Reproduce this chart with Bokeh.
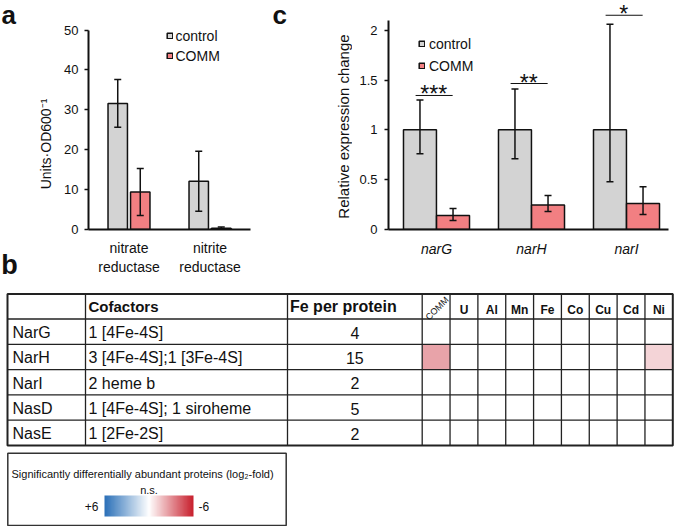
import numpy as np
from bokeh.plotting import figure
from bokeh.models import (ColumnDataSource, Whisker, TeeHead, Legend, LegendItem,
                          Range1d, FixedTicker, LinearColorMapper)
from bokeh.layouts import column, row
from bokeh.transform import transform
from bokeh.core.properties import value
from bokeh.embed import file_html
from bokeh.resources import INLINE

FONT = "Liberation Sans"
CTRL_COLOR = "#d3d3d3"
COMM_COLOR = "#f27f82"
INK = "#111111"

# ---------------- data ----------------
# panel a: enzyme activity (Units per OD600)
a_categories = ["nitrate\nreductase", "nitrite\nreductase"]
a_control = [31.6, 12.1]
a_control_err = [6.0, 7.5]
a_comm = [9.4, 0.3]
a_comm_err = [5.9, 0.3]

# panel c: relative expression change
c_genes = ["narG", "narH", "narI"]
c_control = [1.0, 1.0, 1.0]
c_control_upper = [1.30, 1.41, 2.06]
c_control_lower = [0.76, 0.71, 0.48]
c_comm = [0.14, 0.245, 0.26]
c_comm_upper = [0.21, 0.34, 0.43]
c_comm_lower = [0.09, 0.18, 0.15]
c_sig_labels = ["***", "**", "*"]
c_sig_level = [1.345, 1.465, 2.15]

# panel b: table
b_proteins = ["NarG", "NarH", "NarI", "NasD", "NasE"]
b_cofactors = ["1 [4Fe-4S]", "3 [4Fe-4S];1 [3Fe-4S]", "2 heme b",
               "1 [4Fe-4S]; 1 siroheme", "1 [2Fe-2S]"]
b_fe = [4, 15, 2, 5, 2]
b_conditions = ["COMM", "U", "Al", "Mn", "Fe", "Co", "Cu", "Cd", "Ni"]
# log2 fold change of significantly different proteins (0 = n.s.)
b_log2fc = [
    [0, 0, 0, 0, 0, 0, 0, 0, 0],
    [-2.45, 0, 0, 0, 0, 0, 0, 0, -1.15],
    [0, 0, 0, 0, 0, 0, 0, 0, 0],
    [0, 0, 0, 0, 0, 0, 0, 0, 0],
    [0, 0, 0, 0, 0, 0, 0, 0, 0],
]

# ---------------- layout ----------------
W, H = 674, 526
TOP_H = 288
BOT_H = H - TOP_H
FRAME_B = 229                            # bottom of the plotting frames in the top row
SA_W, PA_W, SC_W = 55, 210, 87          # x: 0-55, 55-265, 265-352
PC_W = W - SA_W - PA_W - SC_W           # 352-674


def style_axes(p):
    for axis in (p.xaxis[0], p.yaxis[0]):
        axis.axis_line_width = 2
        axis.axis_line_color = INK
        axis.major_tick_line_width = 1.5
        axis.major_tick_line_color = INK
        axis.minor_tick_line_color = None
        axis.major_label_text_font = FONT
        axis.major_label_text_color = INK
    p.xaxis.major_tick_out = 0
    p.xaxis.major_tick_in = 0
    p.yaxis.major_tick_out = 4
    p.yaxis.major_tick_in = 0
    p.grid.visible = False
    p.outline_line_color = None


def head():
    return TeeHead(size=7, line_width=1.5, line_color=INK)


def strip(x0, x1, y0, y1, bottom=0, xaxis=None):
    s = figure(width=x1 - x0, height=y1 - y0 + bottom, x_range=Range1d(x0, x1),
               y_range=Range1d(-y1, -y0), output_backend="svg", toolbar_location=None,
               title=None, min_border_left=0, min_border_right=0, min_border_top=0,
               min_border_bottom=bottom, x_axis_location=xaxis, y_axis_location=None)
    s.grid.visible = False
    s.outline_line_color = None
    return s


def put(p, x, y, text, size, bold=False, angle=0.0, align="left", baseline="middle"):
    p.text(x=[x], y=[-y], text=[text], angle=angle, text_align=align, text_baseline=baseline,
           text_font=value(FONT), text_font_size=value(size),
           text_font_style="bold" if bold else "normal", text_color=INK)

# ---------------- panel a ----------------
def ax_(x): return 1 + (x - 128.5) / 81.0
def ay_(y): return (FRAME_B - y) * 50 / 199.5

pa = figure(width=PA_W, height=TOP_H, x_range=Range1d(ax_(88), ax_(250)),
            y_range=Range1d(0, ay_(0)), output_backend="svg", toolbar_location=None,
            title=None, min_border_left=88 - SA_W, min_border_right=SA_W + PA_W - 250,
            min_border_top=0, min_border_bottom=TOP_H - FRAME_B)
style_axes(pa)
xa = np.arange(1, len(a_categories) + 1)
src_a = ColumnDataSource(dict(
    xc=xa - 0.139, xm=xa + 0.139, ctrl=a_control, comm=a_comm,
    cu=[v + e for v, e in zip(a_control, a_control_err)],
    cl=[v - e for v, e in zip(a_control, a_control_err)],
    mu=[v + e for v, e in zip(a_comm, a_comm_err)],
    ml=[max(v - e, 0) for v, e in zip(a_comm, a_comm_err)]))
ra1 = pa.vbar(x="xc", top="ctrl", width=0.24, source=src_a, fill_color=CTRL_COLOR,
              line_color=INK, line_width=1.5)
ra2 = pa.vbar(x="xm", top="comm", width=0.24, source=src_a, fill_color=COMM_COLOR,
              line_color=INK, line_width=1.5)
for b, u, l in (("xc", "cu", "cl"), ("xm", "mu", "ml")):
    pa.add_layout(Whisker(source=src_a, base=b, upper=u, lower=l, line_width=1.5,
                          line_color=INK, upper_head=head(), lower_head=head(),
                          level="annotation"))
pa.xaxis.ticker = FixedTicker(ticks=list(xa))
pa.xaxis.major_label_overrides = {int(i): c for i, c in zip(xa, a_categories)}
pa.xaxis.major_label_text_font_size = "14px"
pa.xaxis.major_label_standoff = 10
pa.yaxis.ticker = FixedTicker(ticks=[0, 10, 20, 30, 40, 50])
pa.yaxis.bounds = (0, 50)
pa.yaxis.major_label_text_font_size = "13px"
pa.yaxis.major_label_standoff = 6
leg_a = Legend(items=[LegendItem(label=value("control"), renderers=[ra1]),
                      LegendItem(label=value("COMM"), renderers=[ra2])],
               location=(165.5 - 88, FRAME_B - (37 - 7.5 + 34)),
               glyph_width=7, glyph_height=7, label_height=15, spacing=4,
               label_standoff=3, padding=0, margin=0, border_line_color=None,
               background_fill_alpha=0, label_text_font=FONT,
               label_text_font_size="14px", label_text_color=INK)
pa.add_layout(leg_a)

sa = strip(0, SA_W, 0, FRAME_B, bottom=TOP_H - FRAME_B, xaxis="below")
put(sa, 1, 14, "a", "26px", bold=True)
put(sa, 45, 143.5, "Units·OD600⁻¹", "14px", angle=np.pi / 2, align="center")
# panel letter "b" sits below the strip's frame: shown as its (only) x tick label
sa.xaxis.ticker = FixedTicker(ticks=[9])
sa.xaxis.major_label_overrides = {9: "b"}
sa.xaxis.axis_line_color = None
sa.xaxis.major_tick_line_color = None
sa.xaxis.minor_tick_line_color = None
sa.xaxis.major_tick_out = 0
sa.xaxis.major_tick_in = 0
sa.xaxis.major_label_standoff = 20
sa.xaxis.major_label_text_font = FONT
sa.xaxis.major_label_text_font_size = "27px"
sa.xaxis.major_label_text_font_style = "bold"
sa.xaxis.major_label_text_color = INK

# ---------------- panel c ----------------
def cx_(x): return 1 + (x - 436) / 95.0
def cy_(y): return (FRAME_B - y) * 2 / 199.3

PC_X0 = SA_W + PA_W + SC_W
pc = figure(width=PC_W, height=TOP_H, x_range=Range1d(cx_(388), cx_(668)),
            y_range=Range1d(0, cy_(0)), output_backend="svg", toolbar_location=None,
            title=None, min_border_left=388 - PC_X0, min_border_right=W - 668,
            min_border_top=0, min_border_bottom=TOP_H - FRAME_B)
style_axes(pc)
xc = np.arange(1, len(c_genes) + 1)
src_c = ColumnDataSource(dict(xc=xc - 0.174, xm=xc + 0.174, ctrl=c_control, comm=c_comm,
                              cu=c_control_upper, cl=c_control_lower,
                              mu=c_comm_upper, ml=c_comm_lower))
rc1 = pc.vbar(x="xc", top="ctrl", width=0.347, source=src_c, fill_color=CTRL_COLOR,
              line_color=INK, line_width=1.5)
rc2 = pc.vbar(x="xm", top="comm", width=0.347, source=src_c, fill_color=COMM_COLOR,
              line_color=INK, line_width=1.5)
for b, u, l in (("xc", "cu", "cl"), ("xm", "mu", "ml")):
    pc.add_layout(Whisker(source=src_c, base=b, upper=u, lower=l, line_width=1.5,
                          line_color=INK, upper_head=head(), lower_head=head(),
                          level="annotation"))
src_sig = ColumnDataSource(dict(x0=xc - 0.22, x1=xc + 0.17, xs=xc - 0.03,
                                y=c_sig_level, label=c_sig_labels))
pc.segment(x0="x0", y0="y", x1="x1", y1="y", source=src_sig, line_color=INK, line_width=1)
pc.text(x="xs", y="y", text="label", source=src_sig, text_align="center",
        text_baseline="middle", y_offset=-1, text_font=value(FONT),
        text_font_size=value("23px"), text_color=INK)
pc.xaxis.ticker = FixedTicker(ticks=list(xc))
pc.xaxis.major_label_overrides = {int(i): g for i, g in zip(xc, c_genes)}
pc.xaxis.major_label_text_font_size = "14px"
pc.xaxis.major_label_text_font_style = "italic"
pc.xaxis.major_label_standoff = 11
pc.yaxis.ticker = FixedTicker(ticks=[0, 0.5, 1, 1.5, 2])
pc.yaxis.major_label_overrides = {0: "0", 0.5: "0.5", 1: "1", 1.5: "1.5", 2: "2"}
pc.yaxis.bounds = (0, 2.1)
pc.yaxis.major_label_text_font_size = "13px"
pc.yaxis.major_label_standoff = 7
leg_c = Legend(items=[LegendItem(label=value("control"), renderers=[rc1]),
                      LegendItem(label=value("COMM"), renderers=[rc2])],
               location=(418 - 388, FRAME_B - (45 - 7.5 + 36)),
               glyph_width=7, glyph_height=7, label_height=15, spacing=6,
               label_standoff=4, padding=0, margin=0, border_line_color=None,
               background_fill_alpha=0, label_text_font=FONT,
               label_text_font_size="14px", label_text_color=INK)
pc.add_layout(leg_c)

sc = strip(SA_W + PA_W, PC_X0, 0, FRAME_B, bottom=TOP_H - FRAME_B)
put(sc, 272, 14, "c", "26px", bold=True)
put(sc, 343, 126, "Relative expression change", "15px", angle=np.pi / 2, align="center")

# ---------------- panel b (table) ----------------
pb = strip(0, W, TOP_H, H)

RED = (200, 32, 45)
BLUE = (43, 112, 184)
def _mix(c, f):
    return tuple(int(round(255 + (ci - 255) * f)) for ci in c)
PALETTE = []
for i in range(256):
    v = -6 + 12 * i / 255
    PALETTE.append("#%02x%02x%02x" % (_mix(RED, -v / 6) if v < 0 else _mix(BLUE, v / 6)))
mapper = LinearColorMapper(palette=PALETTE, low=-6, high=6)

ELW = (672.3 - 421.7) / len(b_conditions)
col_edges = [7, 85, 287, 421.7] + [421.7 + ELW * (i + 1) for i in range(len(b_conditions))]
ROWH = (445.0 - 318.5) / len(b_proteins)
row_edges = [293.5, 318.5] + [318.5 + ROWH * (i + 1) for i in range(len(b_proteins))]

# heat cells
cl, cr, ct, cb, cv = [], [], [], [], []
for ri, vals in enumerate(b_log2fc):
    for ci, v in enumerate(vals):
        if v != 0:
            cl.append(col_edges[3 + ci]); cr.append(col_edges[4 + ci])
            ct.append(-row_edges[1 + ri]); cb.append(-row_edges[2 + ri]); cv.append(v)
pb.quad(left="l", right="r", top="t", bottom="b",
        source=ColumnDataSource(dict(l=cl, r=cr, t=ct, b=cb, v=cv)),
        fill_color=transform("v", mapper), line_color=None)

# grid lines
hy = [-y for y in row_edges[1:-1]]
pb.segment(x0=[col_edges[0]] * len(hy), y0=hy, x1=[col_edges[-1]] * len(hy), y1=hy,
           line_color="#222222", line_width=1.3)
vx = col_edges[1:-1]
pb.segment(x0=vx, y0=[-row_edges[0]] * len(vx), x1=vx, y1=[-row_edges[-1]] * len(vx),
           line_color="#222222", line_width=1.3)
pb.quad(left=[col_edges[0]], right=[col_edges[-1]], top=[-row_edges[0]],
        bottom=[-row_edges[-1]], fill_color=None, line_color="#222222", line_width=2)

# header
hcy = (row_edges[0] + row_edges[1]) / 2
put(pb, col_edges[1] + 3, hcy, "Cofactors", "15px", bold=True)
put(pb, col_edges[2] + 2.5, hcy, "Fe per protein", "16px", bold=True)
ecx = [(col_edges[3 + i] + col_edges[4 + i]) / 2 for i in range(len(b_conditions))]
pb.text(x=ecx[1:], y=[-(hcy + 3)] * (len(ecx) - 1), text=b_conditions[1:],
        text_align="center", text_baseline="middle", text_font=value(FONT),
        text_font_size=value("12px"), text_font_style="bold", text_color=INK)
put(pb, ecx[0] + 1, hcy + 2, b_conditions[0], "9px", angle=np.pi / 4, align="center")

# rows
rcy = [-(row_edges[1 + i] + row_edges[2 + i]) / 2 for i in range(len(b_proteins))]
pb.text(x=[col_edges[0] + 5] * len(rcy), y=rcy, text=b_proteins, text_baseline="middle",
        y_offset=1, text_font=value(FONT), text_font_size=value("16px"), text_color=INK)
pb.text(x=[col_edges[1] + 3] * len(rcy), y=rcy, text=b_cofactors, text_baseline="middle",
        y_offset=1, text_font=value(FONT), text_font_size=value("16px"), text_color=INK)
pb.text(x=[(col_edges[2] + col_edges[3]) / 2] * len(rcy), y=rcy,
        text=[str(v) for v in b_fe], text_align="center", text_baseline="middle",
        y_offset=1, text_font=value(FONT), text_font_size=value("16px"), text_color=INK)

# colour key box
pb.quad(left=[7.3], right=[285.7], top=[-452.7], bottom=[-525], fill_color=None,
        line_color="#333333", line_width=1.5)
put(pb, 11, 473, "Significantly differentially abundant proteins (log₂-fold)", "11px")
put(pb, 148.5, 489.5, "n.s.", "11px", align="center")
pb.image(image=[np.linspace(6, -6, 240)[None, :]], x=104, y=-516, dw=89, dh=21,
         color_mapper=mapper)
put(pb, 98, 506, "+6", "12px", align="right")
put(pb, 198, 506, "-6", "12px")

layout = column(row(sa, pa, sc, pc), pb)
open("out.html", "w").write(file_html(layout, INLINE))
